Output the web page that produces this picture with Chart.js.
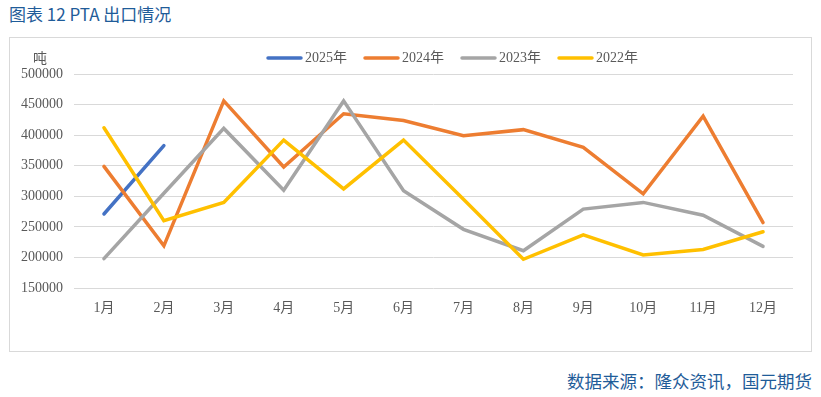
<!DOCTYPE html>
<html>
<head>
<meta charset="utf-8">
<script src="https://cdn.jsdelivr.net/npm/chart.js@4.4.0/dist/chart.umd.min.js"></script>
<style>
  html, body { margin:0; padding:0; background:#fff; }
  body { width:821px; height:397px; position:relative; overflow:hidden; }
  #title { position:absolute; left:9px; top:3px; font-family:"Noto Sans CJK SC","Noto Sans",sans-serif; font-size:17px; color:#1F5C99; white-space:nowrap; line-height:22px; }
  #box { position:absolute; left:9px; top:37px; width:803px; height:315px; box-sizing:border-box; border:1px solid #D9D9D9; }
  #c { position:absolute; left:9px; top:37px; }
  #source { position:absolute; right:9px; top:369px; font-family:"Noto Sans CJK SC","Noto Sans",sans-serif; font-size:17.5px; color:#1F5C99; white-space:nowrap; line-height:24px; }
</style>
</head>
<body>
<div id="title">图表 12 PTA 出口情况</div>
<div id="box"></div>
<canvas id="c" width="803" height="315"></canvas>
<div id="source">数据来源：隆众资讯，国元期货</div>
<script>
const categories = ["1月","2月","3月","4月","5月","6月","7月","8月","9月","10月","11月","12月"];
const seriesNames = ["2025年","2024年","2023年","2022年"];
const values2025 = [271000, 383000, null, null, null, null, null, null, null, null, null, null];
const values2024 = [349000, 219000, 456000, 348000, 435000, 424000, 399000, 409000, 380000, 304000, 431000, 257000];
const values2023 = [198000, 305000, 411000, 310000, 456000, 309000, 246000, 211000, 279000, 290000, 269000, 218000];
const values2022 = [412000, 260000, 290000, 392000, 312000, 392000, 295000, 197000, 237000, 204000, 213000, 242000];
const yTicksMin = 150000, yTicksMax = 500000, yTickStep = 50000;
const unitLabel = "吨";

const colors = ["#4472C4", "#ED7D31", "#A5A5A5", "#FFC000"];
const allValues = [values2025, values2024, values2023, values2022];
const FONT = '"Liberation Serif","Noto Sans CJK SC",serif';

const datasets = allValues.map((v, i) => ({
  label: seriesNames[i],
  data: v,
  borderColor: colors[i],
  backgroundColor: colors[i],
  borderWidth: 3.5,
  pointRadius: 0,
  tension: 0,
  fill: false,
  spanGaps: false,
  order: 4 - i,
  borderCapStyle: 'round',
  borderJoinStyle: 'miter'
}));

const customLegend = {
  id: 'customLegend',
  afterDraw(chart) {
    const ctx = chart.ctx;
    ctx.save();
    ctx.font = '14px ' + FONT;
    ctx.textBaseline = 'middle';
    ctx.textAlign = 'left';
    let x = 258;
    const y = 21;
    chart.data.datasets.forEach((ds) => {
      ctx.strokeStyle = ds.borderColor;
      ctx.lineWidth = 3.5;
      ctx.lineCap = 'round';
      ctx.beginPath();
      ctx.moveTo(x + 1, y);
      ctx.lineTo(x + 34, y);
      ctx.stroke();
      ctx.fillStyle = '#595959';
      ctx.fillText(ds.label, x + 38, y);
      x += 38 + ctx.measureText(ds.label).width + 17;
    });
    ctx.textAlign = 'center';
    ctx.fillText(unitLabel, 31, 22);
    ctx.restore();
  }
};

new Chart(document.getElementById('c'), {
  type: 'line',
  data: { labels: categories, datasets },
  options: {
    responsive: false,
    animation: false,
    devicePixelRatio: 1,
    layout: { padding: { left: 0, right: 19, top: 37, bottom: 0 } },
    plugins: { legend: { display: false }, title: { display: false }, tooltip: { enabled: false } },
    scales: {
      x: {
        offset: true,
        grid: { display: false, drawTicks: false },
        border: { display: false },
        ticks: { color: '#595959', font: { family: FONT, size: 14 }, padding: 12, maxRotation: 0 },
        afterFit(s) { s.height = 64; }
      },
      y: {
        min: yTicksMin, max: yTicksMax,
        grid: { color: '#D9D9D9', lineWidth: 1, drawTicks: false },
        border: { display: false },
        ticks: { stepSize: yTickStep, color: '#595959', font: { family: FONT, size: 14 }, padding: 11,
                 callback: (v) => String(v) },
        afterFit(s) { s.width = 65; }
      }
    }
  },
  plugins: [customLegend]
});
</script>
</body>
</html>
